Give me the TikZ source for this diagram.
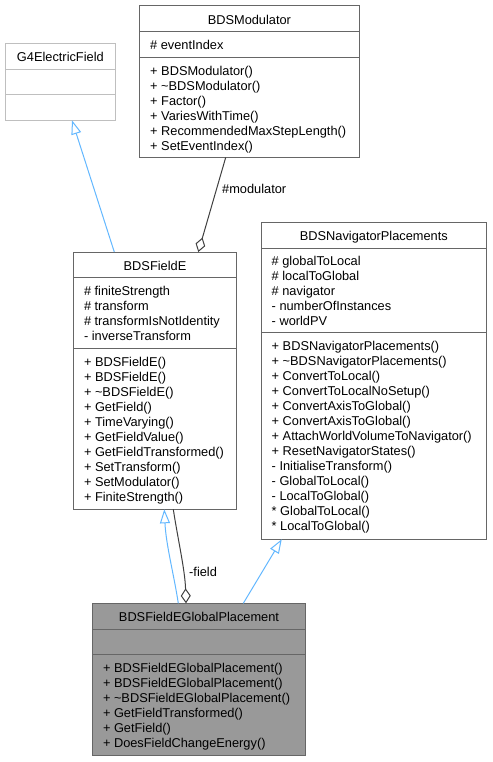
\documentclass[tikz,border=0pt]{standalone}
\usepackage{fontspec}
\setmainfont{Liberation Sans}
\usetikzlibrary{arrows.meta}
\definecolor{edgegray}{HTML}{666666}
\definecolor{lightedge}{HTML}{BFBFBF}
\definecolor{inhblue}{HTML}{63B8FF}
\definecolor{aggrgray}{HTML}{404040}
\definecolor{hlfill}{HTML}{999999}
\tikzset{
  classbox/.style={draw=edgegray, line width=1pt, fill=white, inner sep=0pt, outer sep=0pt, anchor=north west},
  member/.style={inner sep=0pt, anchor=base west, font=\fontsize{12.8}{15}\selectfont},
  ctitle/.style={inner sep=0pt, anchor=base, font=\fontsize{12.8}{15}\selectfont},
  sepline/.style={draw=edgegray, line width=1pt},
  inherit/.style={draw=inhblue, line width=1pt, -{Triangle[open, length=14pt, width=10pt]}},
  aggr/.style={draw=aggrgray, line width=1pt, -{Diamond[open, length=15pt, width=10pt]}},
  edgelabel/.style={inner sep=0pt, anchor=base west, font=\fontsize{12.8}{15}\selectfont},
}
\begin{document}
\begin{tikzpicture}[x=1pt, y=-1pt]
\useasboundingbox (0,0) rectangle (492,762);
\fill[white] (0,0) rectangle (492,762);

% G4ElectricField
\node[classbox, draw=lightedge, minimum width=110.7pt, minimum height=77pt] (g4) at (5,43.3) {};
\draw[sepline, draw=lightedge] (5,69.3) -- (115.7,69.3);
\draw[sepline, draw=lightedge] (5,95) -- (115.7,95);
\node[ctitle] (g4t) at (60.35,61.7) {G4ElectricField};

% BDSModulator
\node[classbox, minimum width=219.8pt, minimum height=151.5pt] (mod) at (139.5,6) {};
\draw[sepline] (139.5,32) -- (359.3,32);
\draw[sepline] (139.5,57.3) -- (359.3,57.3);
\node[ctitle] (modt) at (249.4,24.4) {BDSModulator};
\node[member] (mod-a0) at (150,49.9) {\# eventIndex};
\foreach \t [count=\i from 0] in {+ BDSModulator(), + \textasciitilde BDSModulator(), + Factor(), + VariesWithTime(), + RecommendedMaxStepLength(), + SetEventIndex()}
  \node[member] (mod-m\i) at (150,{75.2+15*\i}) {\t};

% BDSFieldE
\node[classbox, minimum width=163.4pt, minimum height=257.3pt] (fe) at (73.3,252) {};
\draw[sepline] (73.3,277.7) -- (236.7,277.7);
\draw[sepline] (73.3,348.3) -- (236.7,348.3);
\node[ctitle] (fet) at (155,270.4) {BDSFieldE};
\foreach \t [count=\i from 0] in {\# finiteStrength, \# transform, \# transformIsNotIdentity, - inverseTransform}
  \node[member] (fe-a\i) at (83.8,{295.6+15*\i}) {\t};
\foreach \t [count=\i from 0] in {+ BDSFieldE(), + BDSFieldE(), + \textasciitilde BDSFieldE(), + GetField(), + TimeVarying(), + GetFieldValue(), + GetFieldTransformed(), + SetTransform(), + SetModulator(), + FiniteStrength()}
  \node[member] (fe-m\i) at (83.8,{366.2+15*\i}) {\t};

% BDSNavigatorPlacements
\node[classbox, minimum width=225.7pt, minimum height=316.8pt] (nav) at (261,222.5) {};
\draw[sepline] (261,248) -- (486.7,248);
\draw[sepline] (261,332.3) -- (486.7,332.3);
\node[ctitle] (navt) at (373.85,240.9) {BDSNavigatorPlacements};
\foreach \t [count=\i from 0] in {\# globalToLocal, \# localToGlobal, \# navigator, - numberOfInstances, - worldPV}
  \node[member] (nav-a\i) at (271.5,{265.9+15*\i}) {\t};
\foreach \t [count=\i from 0] in {+ BDSNavigatorPlacements(), + \textasciitilde BDSNavigatorPlacements(), + ConvertToLocal(), + ConvertToLocalNoSetup(), + ConvertAxisToGlobal(), + ConvertAxisToGlobal(), + AttachWorldVolumeToNavigator(), + ResetNavigatorStates(), - InitialiseTransform(), - GlobalToLocal(), - LocalToGlobal(), * GlobalToLocal(), * LocalToGlobal()}
  \node[member] (nav-m\i) at (271.5,{350.2+15*\i}) {\t};

% BDSFieldEGlobalPlacement
\node[classbox, fill=hlfill, minimum width=213.4pt, minimum height=152.4pt] (gp) at (92.3,603.3) {};
\draw[sepline] (92.3,629.3) -- (305.7,629.3);
\draw[sepline] (92.3,654.7) -- (305.7,654.7);
\node[ctitle] (gpt) at (199,621.7) {BDSFieldEGlobalPlacement};
\foreach \t [count=\i from 0] in {+ BDSFieldEGlobalPlacement(), + BDSFieldEGlobalPlacement(), + \textasciitilde BDSFieldEGlobalPlacement(), + GetFieldTransformed(), + GetField(), + DoesFieldChangeEnergy()}
  \node[member] (gp-m\i) at (102.8,{672.6+15*\i}) {\t};

% connectors
\draw[inherit] (114.3,0 |- fe.north) -- (72,0 |- g4.south);
\draw[aggr] (225.7,0 |- mod.south) -- (198.3,0 |- fe.north);
\node[edgelabel] (lblmod) at (222,193.5) {\#modulator};
\draw[inherit] (178.3,0 |- gp.north) .. controls (174,575) and (166,545) .. (164.3,0 |- fe.south);
\draw[aggr] (173.3,0 |- fe.south) .. controls (178,540) and (185,570) .. (186,0 |- gp.north);
\node[edgelabel] (lblfield) at (189,576.7) {-field};
\draw[inherit] (243.3,0 |- gp.north) -- (281.7,0 |- nav.south);
\end{tikzpicture}
\end{document}
